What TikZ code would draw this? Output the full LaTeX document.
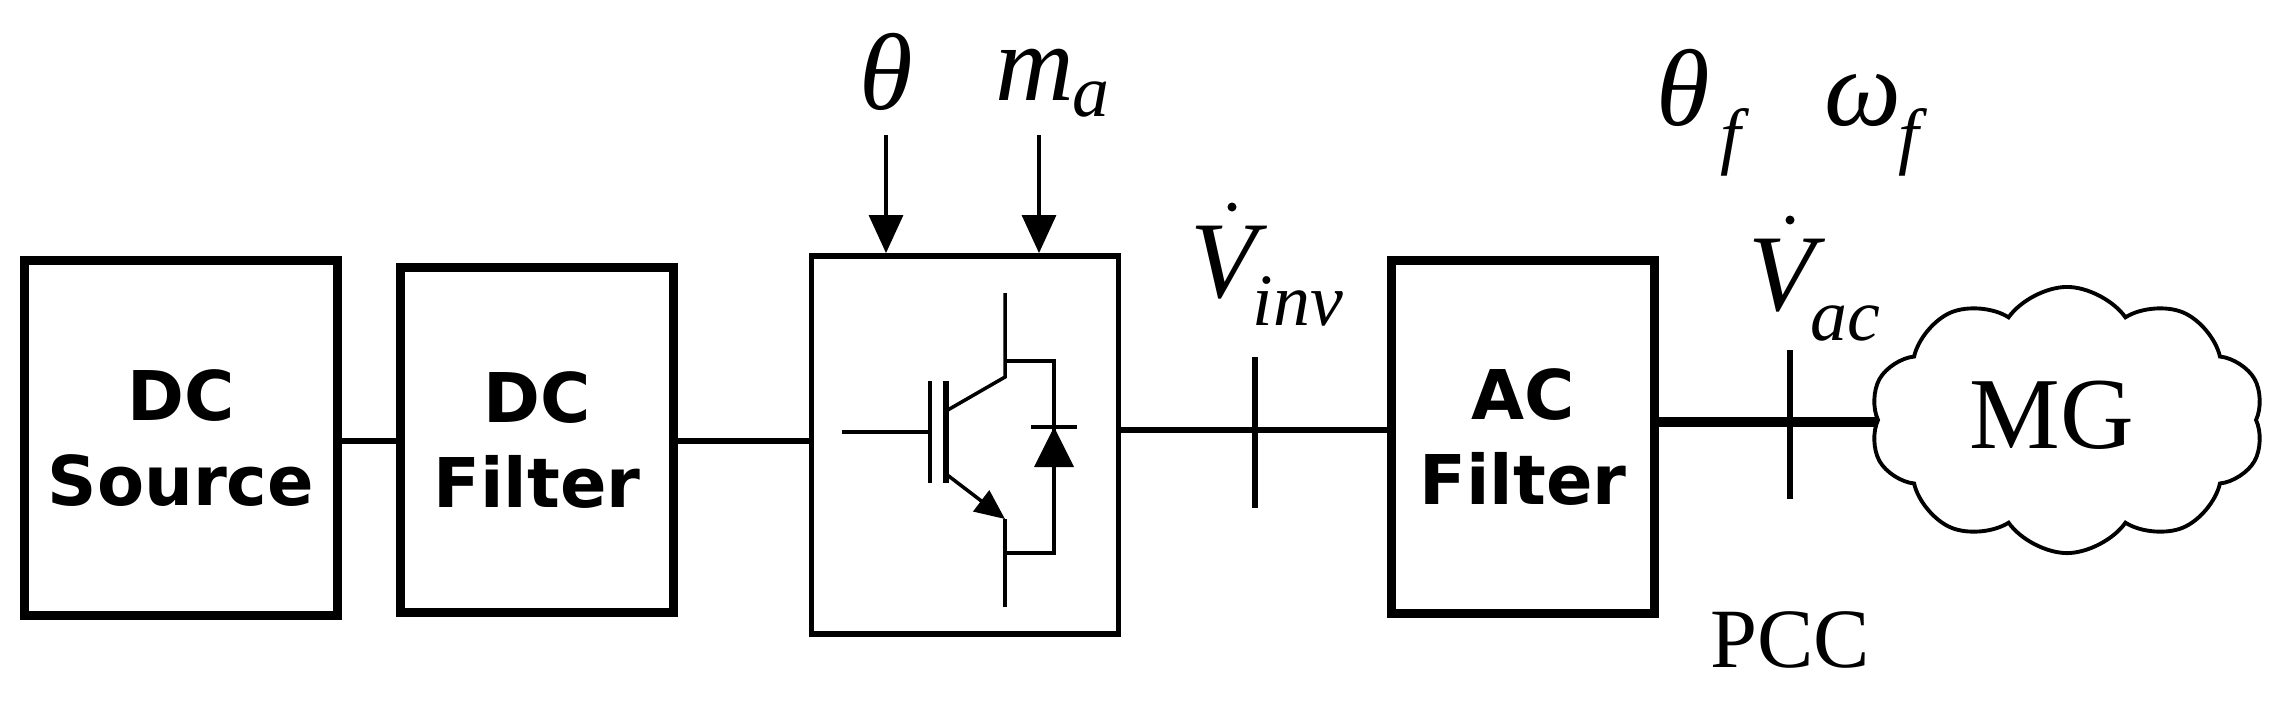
\documentclass[tikz,border=0pt]{standalone}
\usepackage{fontspec}
\setmainfont{Liberation Serif}
\newfontfamily\boxfont{DejaVu Sans}
\usetikzlibrary{arrows.meta,shapes.symbols}
\begin{document}
\begin{tikzpicture}[x=0.01cm,y=-0.01cm,
  blk/.style={draw,line width=2.6pt,align=center,inner sep=0pt,font=\boxfont\bfseries\fontsize{19.5}{24}\selectfont},
  conn/.style={line width=1.8pt},
  thin/.style={line width=1pt},
  ctl/.style={line width=0.9pt,-{Triangle[length=0.38cm,width=0.34cm]}},
  lab/.style={inner sep=0pt,font=\fontsize{31}{31}\selectfont\itshape},
  sub/.style={inner sep=0pt,font=\fontsize{21}{21}\selectfont\itshape}]
\useasboundingbox (0,0) rectangle (2288,708);
\node[blk,minimum width=3.12cm,minimum height=3.55cm] (src) at (181,438) {DC\\Source};
\node[blk,minimum width=2.72cm,minimum height=3.45cm] (fil) at (537,440) {DC\\Filter};
\node[draw,line width=1.6pt,minimum width=3.07cm,minimum height=3.78cm,inner sep=0pt] (inv) at (965,445) {};
\node[blk,minimum width=2.63cm,minimum height=3.53cm] (acf) at (1523,437) {AC\\Filter};
\node[cloud,draw,line width=1.1pt,cloud puffs=10,cloud puff arc=110,aspect=1.5,minimum width=3.94cm,minimum height=2.66cm,inner sep=0pt] (mg) at (2067,420) {};
\node[inner sep=0pt,font=\fontsize{29}{29}\selectfont] (mgt) at (2052,415) {MG};
% connectors
\coordinate (y1) at (0,441);
\coordinate (y2) at (0,430);
\coordinate (y3) at (0,422);
\draw[conn] (src.east |- y1) -- (fil.west |- y1);
\draw[conn] (fil.east |- y1) -- (inv.west |- y1);
\draw[conn] (inv.east |- y2) -- (acf.west |- y2);
\draw[line width=2.8pt] (acf.east |- y3) -- (mg.west |- y3);
% ticks
\coordinate (t1a) at (1255,357); \coordinate (t1b) at (1255,508);
\coordinate (t2a) at (1790,350); \coordinate (t2b) at (1790,499);
\draw[conn] (t1a) -- (t1b);
\draw[conn] (t2a) -- (t2b);
% control arrows
\coordinate (a1) at (886,135); \coordinate (a2) at (1039,135);
\draw[ctl] (a1) -- (a1 |- inv.north);
\draw[ctl] (a2) -- (a2 |- inv.north);
\node[lab] (th) at (886,72) {θ};
\node[lab,anchor=base west] (m) at (995,100) {m};
\node[sub,anchor=base west] (ma) at (1072,116) {a};
% voltage labels
\node[lab,anchor=base west] (vi) at (1190,297) {V};
\fill (1232,207) circle (4.5);
\node[sub,anchor=base west] (vis) at (1252,325) {inv};
\node[lab,anchor=base west] (va) at (1748,310) {V};
\fill (1790,220) circle (4.5);
\node[sub,anchor=base west] (vas) at (1810,340) {ac};
\node[lab,anchor=base west] (tf) at (1656,125) {θ};
\node[sub,anchor=base west] (tfs) at (1720,160) {f};
\node[lab,anchor=base west] (wf) at (1824,125) {ω};
\node[sub,anchor=base west] (wfs) at (1898,160) {f};
\node[inner sep=0pt,font=\fontsize{24}{24}\selectfont] (pcc) at (1790,640) {PCC};
% IGBT
\draw[thin] (842,432) -- (930,432);
\draw[line width=1.4pt] (930,381) -- (930,483);
\draw[line width=1.6pt] (946,381) -- (946,483);
\draw[thin] (946,411) -- (1005,377) -- (1005,293);
\draw[thin,-{Triangle[length=0.3cm,width=0.26cm]}] (946,474) -- (1005,519);
\draw[thin] (1005,519) -- (1005,607);
\draw[thin] (1005,361) -- (1054,361) -- (1054,553) -- (1005,553);
\fill (1054,427) -- (1034,467) -- (1074,467) -- cycle;
\draw[line width=1.4pt] (1031,427) -- (1077,427);
\end{tikzpicture}
\end{document}
